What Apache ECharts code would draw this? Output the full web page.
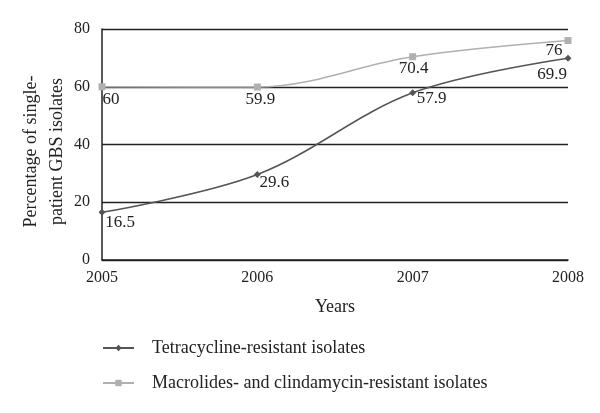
<!DOCTYPE html>
<html>
<head>
<meta charset="utf-8">
<script src="https://cdn.jsdelivr.net/npm/echarts@6/dist/echarts.min.js"></script>
<style>
  html, body { margin: 0; padding: 0; background: #fff; }
  #chart { width: 600px; height: 413px; }
</style>
</head>
<body>
<div id="chart"></div>
<script>
// 数据
var years = ['2005', '2006', '2007', '2008'];
var tetracycline = [16.5, 29.6, 57.9, 69.9];
var macrolides = [60, 59.9, 70.4, 76];

// 标签相对数据点的偏移
var tetraLabelPos = [[18, 10], [17, 8], [19, 6], [-16, 16]];
var macroLabelPos = [[9, 13], [3, 12], [1, 12], [-14, 10]];

var font = '"Liberation Serif", "DejaVu Serif", serif';

function withLabels(values, offsets) {
  return values.map(function (v, i) {
    return {
      value: v,
      label: { position: 'inside', offset: offsets[i] }
    };
  });
}

var chart = echarts.init(document.getElementById('chart'));
chart.setOption({
  animation: false,
  textStyle: { fontFamily: font },
  grid: { left: 102, right: 32, top: 29, bottom: 153 },
  legend: {
    orient: 'vertical',
    left: 97,
    top: 334,
    itemGap: 17,
    itemWidth: 31,
    itemHeight: 8,
    textStyle: { fontFamily: font, fontSize: 18, color: '#222', padding: [0, 0, 0, 13] },
    data: ['Tetracycline-resistant isolates', 'Macrolides- and clindamycin-resistant isolates']
  },
  xAxis: {
    type: 'category',
    data: years,
    boundaryGap: false,
    name: 'Years',
    nameLocation: 'middle',
    nameGap: 38,
    nameTextStyle: { fontFamily: font, fontSize: 18, color: '#222' },
    axisLine: { lineStyle: { color: '#222', width: 1.5 } },
    axisTick: { show: false },
    axisLabel: { fontFamily: font, fontSize: 16, color: '#222', margin: 10 }
  },
  yAxis: {
    type: 'value',
    min: 0,
    max: 80,
    interval: 20,
    name: 'Percentage of single-\npatient GBS isolates',
    nameLocation: 'middle',
    nameGap: 32,
    nameMoveOverlap: false,
    nameTextStyle: { fontFamily: font, fontSize: 18, color: '#222', lineHeight: 26, padding: [0, 14, 0, 0] },
    axisLine: { show: true, lineStyle: { color: '#222', width: 1.5 } },
    axisTick: { show: false },
    axisLabel: { fontFamily: font, fontSize: 16, color: '#222', margin: 12 },
    splitLine: { lineStyle: { color: '#222', width: 1.3 } }
  },
  series: [
    {
      name: 'Tetracycline-resistant isolates',
      type: 'line',
      smooth: 0.35,
      symbol: 'diamond',
      symbolSize: 7,
      itemStyle: { color: '#555' },
      lineStyle: { color: '#555', width: 1.5 },
      label: { show: true, fontFamily: font, fontSize: 17, color: '#222' },
      data: withLabels(tetracycline, tetraLabelPos)
    },
    {
      name: 'Macrolides- and clindamycin-resistant isolates',
      type: 'line',
      smooth: 0.35,
      symbol: 'rect',
      symbolSize: 7,
      itemStyle: { color: '#b0b0b0' },
      lineStyle: { color: '#b0b0b0', width: 1.5 },
      label: { show: true, fontFamily: font, fontSize: 17, color: '#222' },
      data: withLabels(macrolides, macroLabelPos)
    }
  ]
});
</script>
</body>
</html>
